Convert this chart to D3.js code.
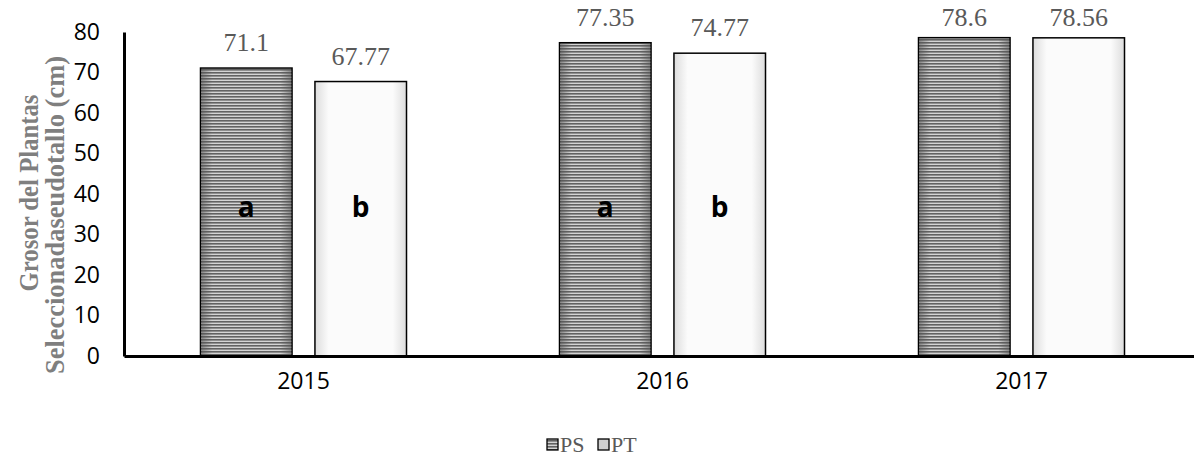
<!DOCTYPE html>
<html>
<head>
<meta charset="utf-8">
<script src="https://cdn.jsdelivr.net/npm/d3@7"></script>
<style>
  body { margin: 0; background: #fff; }
  .tick text { font-family: "Open Sans", "Liberation Sans", sans-serif; font-size: 23px; fill: #000; }
</style>
</head>
<body>
<div id="chart"></div>
<script>
// data
const years = ['2015', '2016', '2017'];
const series = ['PS', 'PT'];
const psValues = [71.1, 77.35, 78.6];
const ptValues = [67.77, 74.77, 78.56];
const psLetters = ['a', 'a', ''];
const ptLetters = ['b', 'b', ''];
const yTicks = [0, 10, 20, 30, 40, 50, 60, 70, 80];
const titleLines = ['Grosor del Plantas', 'Seleccionadaseudotallo (cm)'];

const W = 1194, H = 457;
const margin = {top: 32, left: 124, bottom: 101};
const plotH = H - margin.top - margin.bottom;

const svg = d3.select('#chart').append('svg')
    .attr('width', W)
    .attr('height', H);

const defs = svg.append('defs');

// striped fill for PS
const stripe = defs.append('pattern')
    .attr('id', 'stripes')
    .attr('patternUnits', 'userSpaceOnUse')
    .attr('width', 6).attr('height', 3);
stripe.append('rect').attr('width', 6).attr('height', 3).attr('fill', '#d4d4d4');
stripe.append('rect').attr('width', 6).attr('height', 1.6).attr('fill', '#626262');

const edgeGrad = defs.append('linearGradient').attr('id', 'psEdge');
edgeGrad.append('stop').attr('offset', '0%').attr('stop-color', '#555').attr('stop-opacity', 0.6);
edgeGrad.append('stop').attr('offset', '12%').attr('stop-color', '#555').attr('stop-opacity', 0);
edgeGrad.append('stop').attr('offset', '88%').attr('stop-color', '#555').attr('stop-opacity', 0);
edgeGrad.append('stop').attr('offset', '100%').attr('stop-color', '#555').attr('stop-opacity', 0.6);

// soft white fill for PT
const ptGrad = defs.append('linearGradient').attr('id', 'ptFill');
ptGrad.append('stop').attr('offset', '0%').attr('stop-color', '#dcdcdc');
ptGrad.append('stop').attr('offset', '15%').attr('stop-color', '#fbfbfb');
ptGrad.append('stop').attr('offset', '85%').attr('stop-color', '#fbfbfb');
ptGrad.append('stop').attr('offset', '100%').attr('stop-color', '#dcdcdc');

const x0 = d3.scaleBand()
    .domain(years)
    .range([margin.left, margin.left + 359 * years.length]);

const x1 = d3.scaleBand()
    .domain(series)
    .range([x0.bandwidth() / 2 - 103, x0.bandwidth() / 2 + 103])
    .paddingInner(0.2);

const y = d3.scaleLinear()
    .domain([0, 80])
    .range([margin.top + plotH, margin.top]);

const rows = years.map((yr, i) => ({
    year: yr,
    bars: [
        {key: 'PS', value: psValues[i], letter: psLetters[i]},
        {key: 'PT', value: ptValues[i], letter: ptLetters[i]}
    ]
}));

const groups = svg.selectAll('g.year')
    .data(rows)
    .join('g')
    .attr('class', 'year')
    .attr('transform', d => `translate(${x0(d.year)},0)`);

groups.selectAll('rect.bar')
    .data(d => d.bars)
    .join('rect')
    .attr('class', 'bar')
    .attr('x', d => x1(d.key))
    .attr('y', d => y(d.value))
    .attr('width', x1.bandwidth())
    .attr('height', d => y(0) - y(d.value))
    .attr('fill', d => d.key === 'PS' ? 'url(#stripes)' : 'url(#ptFill)')
    .attr('stroke', '#000')
    .attr('stroke-width', 1.5);

groups.selectAll('rect.edge')
    .data(d => d.bars.filter(b => b.key === 'PS'))
    .join('rect')
    .attr('class', 'edge')
    .attr('x', d => x1(d.key) + 1)
    .attr('y', d => y(d.value) + 1)
    .attr('width', x1.bandwidth() - 2)
    .attr('height', d => y(0) - y(d.value) - 2)
    .attr('fill', 'url(#psEdge)');

// value labels, kept inside the top of the picture like the original
groups.selectAll('text.val')
    .data(d => d.bars)
    .join('text')
    .attr('class', 'val')
    .attr('x', d => x1(d.key) + x1.bandwidth() / 2)
    .attr('y', d => Math.max(y(d.value) - 17, 26))
    .attr('text-anchor', 'middle')
    .attr('font-family', '"Liberation Serif", "Times New Roman", serif')
    .attr('font-size', 26)
    .attr('fill', '#595959')
    .text(d => d.value);

groups.selectAll('text.letter')
    .data(d => d.bars)
    .join('text')
    .attr('class', 'letter')
    .attr('x', d => x1(d.key) + x1.bandwidth() / 2)
    .attr('y', y(34.3))
    .attr('text-anchor', 'middle')
    .attr('font-family', '"Open Sans", "Liberation Sans", sans-serif')
    .attr('font-weight', 'bold')
    .attr('font-size', 28)
    .attr('fill', '#000')
    .text(d => d.letter);

// axes
const yAxis = d3.axisLeft(y).tickValues(yTicks).tickSize(0).tickPadding(24);
const yG = svg.append('g')
    .attr('transform', `translate(${margin.left},0)`)
    .call(yAxis);
yG.select('.domain').attr('stroke', '#000').attr('stroke-width', 3);

const xAxis = d3.axisBottom(x0).tickSize(0).tickPadding(17).tickSizeOuter(0);
const xG = svg.append('g')
    .attr('transform', `translate(0,${y(0)})`)
    .call(xAxis);
xG.select('.domain').attr('stroke', '#000').attr('stroke-width', 3);

// y axis title (two lines, rotated)
const titleCenters = [193, 215];
const titleLengths = [197, 318];
svg.selectAll('text.ytitle')
    .data(titleLines)
    .join('text')
    .attr('class', 'ytitle')
    .attr('transform', (d, i) => `translate(${38 + i * 26},${titleCenters[i]}) rotate(-90)`)
    .attr('text-anchor', 'middle')
    .attr('font-family', '"Liberation Serif", "Times New Roman", serif')
    .attr('font-weight', 'bold')
    .attr('font-size', 27)
    .attr('fill', '#7f7f7f')
    .attr('textLength', (d, i) => titleLengths[i])
    .attr('lengthAdjust', 'spacingAndGlyphs')
    .text(d => d);

// legend
const legend = svg.append('g')
    .attr('transform', `translate(547,452)`);
const items = legend.selectAll('g')
    .data(series)
    .join('g')
    .attr('transform', (d, i) => `translate(${i * 51},0)`);
items.append('rect')
    .attr('x', 0).attr('y', -13)
    .attr('width', 11).attr('height', 11)
    .attr('fill', d => d === 'PS' ? 'url(#stripes)' : '#cfcfcf')
    .attr('stroke', '#000')
    .attr('stroke-width', 1.3);
items.append('text')
    .attr('x', 13)
    .attr('y', 0)
    .attr('font-family', '"Liberation Serif", "Times New Roman", serif')
    .attr('font-size', 22)
    .attr('fill', '#595959')
    .text(d => d);
</script>
</body>
</html>
